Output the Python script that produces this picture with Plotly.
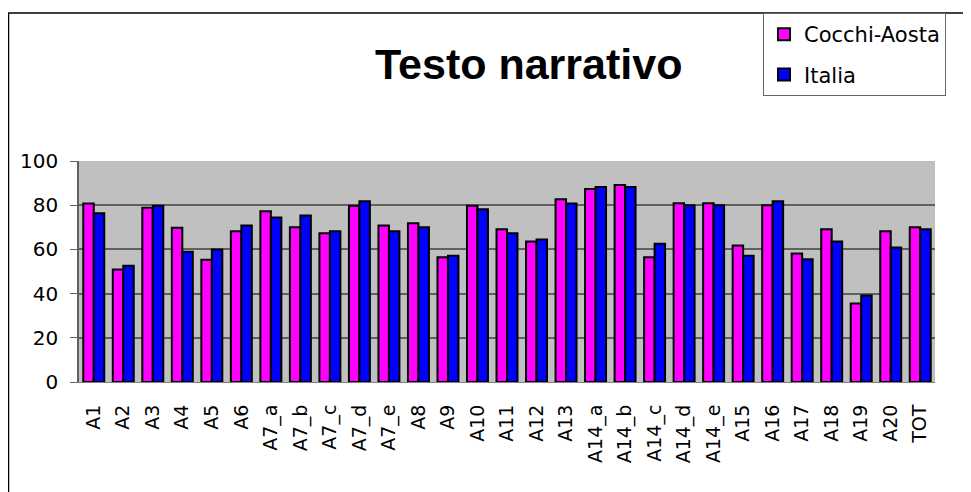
import plotly.graph_objects as go

categories = ["A1", "A2", "A3", "A4", "A5", "A6", "A7_a", "A7_b", "A7_c", "A7_d", "A7_e",
              "A8", "A9", "A10", "A11", "A12", "A13", "A14_a", "A14_b", "A14_c", "A14_d",
              "A14_e", "A15", "A16", "A17", "A18", "A19", "A20", "TOT"]
cocchi_aosta = [80.8, 50.9, 78.9, 69.8, 55.3, 68.2, 77.3, 70.0, 67.3, 79.8, 70.8,
                71.8, 56.4, 79.8, 69.1, 63.6, 82.7, 87.3, 89.1, 56.4, 80.9,
                80.9, 61.8, 80.0, 58.2, 69.1, 35.5, 68.2, 70.0]
italia = [76.4, 52.6, 79.8, 58.9, 60.0, 70.8, 74.4, 75.3, 68.2, 81.8, 68.2,
          70.0, 57.1, 78.2, 67.3, 64.5, 80.8, 88.2, 88.2, 62.6, 80.0,
          80.0, 57.1, 81.8, 55.5, 63.6, 39.1, 60.9, 69.1]
y_ticks = [0, 20, 40, 60, 80, 100]

OFF = 8  # page body margin
W, H = 971 - OFF, 492 - OFF
L, T = 79 - OFF, 161 - OFF
R = OFF + W - 935
B = OFF + H - 382
pw, ph = W - L - R, H - T - B

def px2x(px):
    return (px - OFF - L) / pw

def py2y(py):
    return (OFF + H - B - py) / ph

fig = go.Figure()
fig.add_trace(go.Bar(name="Cocchi-Aosta", x=categories, y=cocchi_aosta, legendgroup="a",
                     marker=dict(color="#FF00FF", line=dict(color="black", width=2))))
fig.add_trace(go.Bar(name="Italia", x=categories, y=italia, legendgroup="b",
                     marker=dict(color="#0000FF", line=dict(color="black", width=2))))

fig.update_layout(
    width=W, height=H,
    margin=dict(l=L, r=R, t=T, b=B, autoexpand=False),
    paper_bgcolor="white",
    plot_bgcolor="#C0C0C0",
    barmode="group",
    bargap=0.29,
    bargroupgap=0,
    font=dict(family="DejaVu Sans, Arial, sans-serif", color="black", size=19),
    showlegend=True,
    legend=dict(x=px2x(763), y=py2y(13), xanchor="left", yanchor="top",
                bordercolor="#666666", borderwidth=1, bgcolor="white",
                font=dict(size=21), itemwidth=30, tracegroupgap=10),
    annotations=[dict(text="<b>Testo narrativo</b>", xref="paper", yref="paper",
                      x=px2x(528), y=py2y(64), xanchor="center", yanchor="middle",
                      showarrow=False,
                      font=dict(size=43, family="Liberation Sans, Arial, sans-serif",
                                color="black"))],
    shapes=[dict(type="rect", xref="paper", yref="paper",
                 x0=px2x(8.5), y0=py2y(530), x1=px2x(1000), y1=py2y(13),
                 line=dict(color="black", width=1.5), fillcolor="rgba(0,0,0,0)",
                 layer="below")],
)
fig.update_xaxes(tickangle=-90, showgrid=False, ticks="", tickfont=dict(size=19),
                 ticklabelstandoff=14,
                 showline=True, linecolor="#808080", linewidth=1)
fig.update_yaxes(range=[0, 100], tickvals=y_ticks, showgrid=True, gridcolor="#606060",
                 gridwidth=2, ticks="outside", ticklen=7, tickcolor="#606060",
                 showline=True, linecolor="#606060", linewidth=1.5,
                 ticklabelstandoff=8,
                 tickfont=dict(size=20), zeroline=False)

fig.write_html("out.html")
